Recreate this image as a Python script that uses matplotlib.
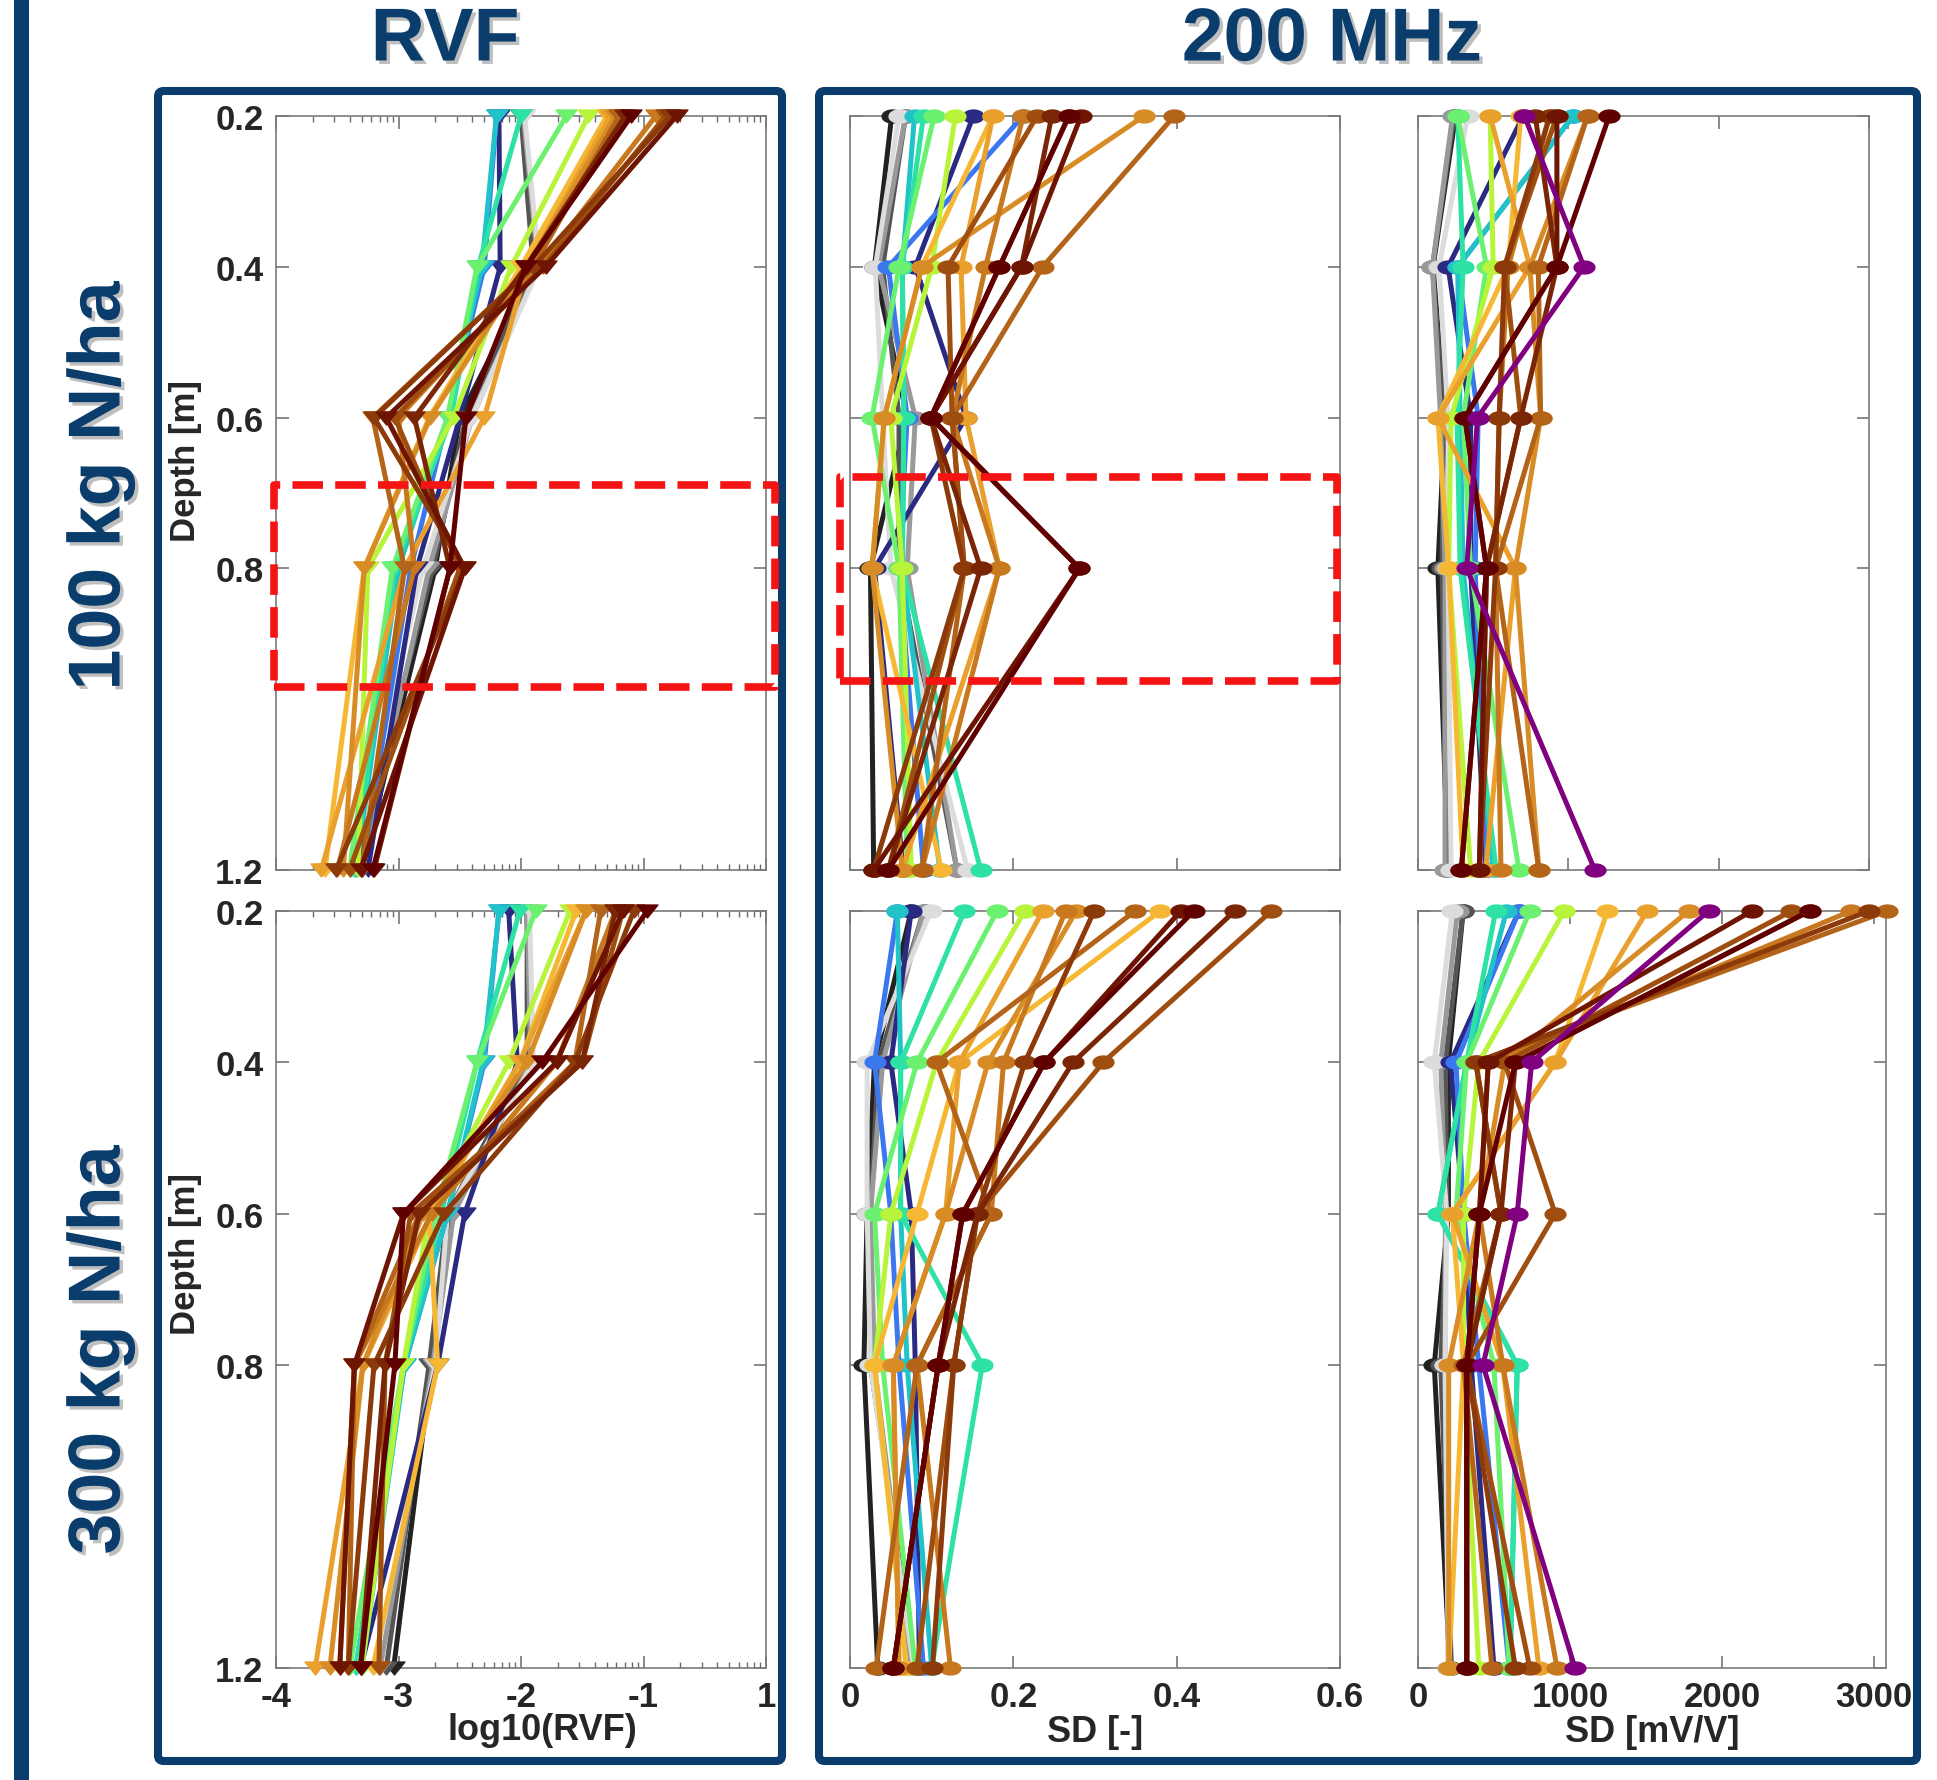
import numpy as np
import matplotlib
matplotlib.use("Agg")
import matplotlib.pyplot as plt
from matplotlib.path import Path
from matplotlib.patches import Rectangle, FancyBboxPatch
import matplotlib.patheffects as pe

plt.rcParams['font.family'] = ['Liberation Sans', 'DejaVu Sans']

# ---------------- data ----------------
depths = [0.2, 0.4, 0.6, 0.8, 1.2]

series_colors = [
    '#222222', '#555555', '#999999', '#dcdcdc', '#2b2a83', '#3b77ef',
    '#20c4c8', '#2ee2a5', '#6cf070', '#b8f43a', '#f6b834', '#eaa02c',
    '#d88c26', '#c8781e', '#b46418', '#a04e10', '#8c3a0a', '#7a2606',
    '#6e1402', '#600000', '#800080',
]

nan = np.nan
# log10(RVF), 100 kg N/ha
rvf_100 = [
    [-1.98, -1.88, -2.50, -2.70, -3.30],
    [-2.00, -1.90, -2.45, -2.72, -3.35],
    [-1.98, -1.86, -2.40, -2.75, -3.30],
    [-1.97, -1.85, -2.40, -2.80, -3.38],
    [-2.18, -2.17, -2.50, -2.85, -3.25],
    [-2.20, -2.30, -2.60, -2.90, -3.30],
    [-2.20, -2.32, -2.60, -3.00, -3.35],
    [-2.00, -2.35, -2.57, -3.03, -3.36],
    [-1.63, -2.36, -2.60, -3.05, -3.40],
    [-1.45, -2.08, -2.55, -3.25, -3.33],
    [-1.30, -2.00, -2.75, -3.28, -3.60],
    [-1.27, -1.95, -2.30, -2.95, -3.63],
    [-1.23, -1.95, -2.74, -3.28, -3.45],
    [-0.90, -1.85, -3.00, -2.87, -3.50],
    [-1.20, -1.90, -3.21, -2.95, -3.30],
    [-0.82, -1.82, -3.03, -2.50, -3.40],
    [-0.78, -1.90, -3.20, -2.46, -3.51],
    [-1.15, -1.96, -2.87, -2.58, -3.20],
    [-0.73, -1.80, -3.10, -2.46, -3.31],
    [-1.10, -1.96, -2.45, -2.58, -3.21],
    [nan, nan, nan, nan, nan],
]
# log10(RVF), 300 kg N/ha
rvf_300 = [
    [-1.95, -1.93, -2.56, -2.73, -3.04],
    [-1.95, -1.95, -2.60, -2.75, -3.10],
    [-1.95, -1.92, -2.55, -2.72, -3.15],
    [-1.93, -1.90, -2.60, -2.70, -3.20],
    [-2.10, -2.03, -2.46, -2.68, -3.31],
    [-2.18, -2.30, -2.60, -2.95, -3.35],
    [-2.18, -2.31, -2.60, -2.95, -3.30],
    [-2.01, -2.36, -2.65, -2.96, -3.35],
    [-1.88, -2.36, -2.70, -2.96, -3.40],
    [-1.60, -2.10, -2.75, -2.96, -3.30],
    [-1.55, -2.01, -2.75, -2.68, -3.21],
    [-1.47, -2.01, -2.73, -3.29, -3.68],
    [-1.47, -1.95, -2.80, -3.29, -3.56],
    [-1.23, -1.71, -2.73, -3.36, -3.48],
    [-1.35, -1.56, -2.83, -3.36, -3.41],
    [-1.17, -1.50, -2.90, -3.11, -3.16],
    [-1.08, -1.56, -2.63, -3.20, -3.41],
    [-1.23, -1.50, -2.83, -3.11, -3.31],
    [-1.17, -1.71, -2.96, -3.36, -3.48],
    [-0.97, -1.83, -2.96, -3.03, -3.31],
    [nan, nan, nan, nan, nan],
]
# SD [-], 100 kg N/ha
sd_100 = [
    [0.051, 0.030, 0.070, 0.025, 0.029],
    [0.068, 0.040, 0.060, 0.060, 0.131],
    [0.068, 0.035, 0.080, 0.070, 0.131],
    [0.060, 0.031, 0.040, 0.050, 0.144],
    [0.151, 0.080, 0.142, 0.030, 0.065],
    [0.212, 0.047, 0.070, 0.060, 0.090],
    [0.079, 0.064, 0.066, 0.064, 0.110],
    [0.090, 0.064, 0.066, 0.064, 0.160],
    [0.103, 0.060, 0.027, 0.060, 0.070],
    [0.129, 0.100, 0.050, 0.064, 0.075],
    [0.175, 0.088, 0.042, 0.027, 0.112],
    [0.175, 0.136, 0.142, 0.183, 0.064],
    [0.360, 0.088, 0.042, 0.027, 0.064],
    [0.212, 0.166, 0.125, 0.183, 0.088],
    [0.397, 0.236, 0.125, 0.140, 0.088],
    [0.229, 0.120, 0.125, 0.140, 0.047],
    [0.268, 0.183, 0.099, 0.140, 0.029],
    [0.247, 0.210, 0.099, 0.160, 0.047],
    [0.283, 0.210, 0.099, 0.281, 0.029],
    [0.268, 0.183, 0.099, 0.281, 0.047],
    [nan, nan, nan, nan, nan],
]
# SD [-], 300 kg N/ha
sd_300 = [
    [0.075, 0.030, 0.021, 0.017, 0.034],
    [0.090, 0.035, 0.025, 0.025, 0.080],
    [0.090, 0.040, 0.025, 0.030, 0.075],
    [0.099, 0.021, 0.021, 0.025, 0.078],
    [0.075, 0.050, 0.075, 0.080, 0.085],
    [0.058, 0.030, 0.050, 0.060, 0.090],
    [0.058, 0.062, 0.062, 0.070, 0.100],
    [0.140, 0.062, 0.062, 0.162, 0.100],
    [0.180, 0.082, 0.030, 0.040, 0.080],
    [0.214, 0.106, 0.050, 0.030, 0.069],
    [0.380, 0.134, 0.082, 0.030, 0.069],
    [0.236, 0.134, 0.117, 0.053, 0.060],
    [0.277, 0.169, 0.117, 0.053, 0.060],
    [0.264, 0.188, 0.173, 0.082, 0.123],
    [0.349, 0.106, 0.173, 0.082, 0.032],
    [0.516, 0.310, 0.156, 0.127, 0.082],
    [0.299, 0.214, 0.156, 0.127, 0.101],
    [0.471, 0.273, 0.156, 0.108, 0.053],
    [0.405, 0.238, 0.138, 0.108, 0.053],
    [0.421, 0.238, 0.138, 0.108, 0.053],
    [nan, nan, nan, nan, nan],
]
# SD [mV/V], 100 kg N/ha
sdmv_100 = [
    [250, 100, 180, 132, 200],
    [240, 96, 170, 160, 190],
    [230, 96, 150, 180, 180],
    [330, 140, 200, 200, 220],
    [700, 200, 350, 350, 450],
    [1032, 264, 400, 380, 460],
    [1032, 264, 280, 300, 500],
    [264, 300, 260, 280, 520],
    [264, 456, 300, 350, 672],
    [480, 500, 220, 204, 350],
    [684, 600, 132, 204, 300],
    [480, 744, 132, 648, 450],
    [1128, 744, 816, 648, 804],
    [876, 600, 540, 516, 552],
    [1128, 800, 816, 516, 804],
    [924, 576, 684, 456, 408],
    [876, 576, 540, 516, 408],
    [780, 924, 684, 456, 288],
    [924, 924, 312, 456, 408],
    [1272, 924, 312, 456, 288],
    [708, 1104, 396, 324, 1176],
]
# SD [mV/V], 300 kg N/ha
sdmv_300 = [
    [297, 200, 200, 107, 210],
    [297, 180, 190, 150, 220],
    [260, 150, 180, 178, 200],
    [226, 107, 190, 178, 202],
    [665, 214, 300, 350, 500],
    [665, 250, 300, 400, 600],
    [582, 320, 131, 653, 606],
    [511, 320, 131, 653, 606],
    [736, 320, 250, 500, 600],
    [962, 400, 300, 300, 400],
    [1247, 903, 226, 300, 202],
    [1508, 903, 226, 558, 796],
    [1781, 570, 404, 202, 202],
    [2850, 463, 404, 558, 915],
    [3088, 380, 546, 300, 487],
    [2458, 570, 903, 321, 736],
    [2969, 380, 546, 321, 641],
    [2577, 641, 546, 321, 321],
    [2197, 463, 404, 321, 321],
    [2577, 641, 404, 321, 321],
    [1912, 748, 653, 428, 1033],
]

rvf_ticks = [-4, -3, -2, -1, 0]
rvf_ticklabels = ['-4', '-3', '-2', '-1', '1']
sd_ticks = [0, 0.2, 0.4, 0.6]
sd_ticklabels = ['0', '0.2', '0.4', '0.6']
sdmv_ticks = [0, 1000, 2000, 3000]
sdmv_ticklabels = ['0', '1000', '2000', '3000']
depth_labels = ['0.2', '0.4', '0.6', '0.8', '1.2']

# ---------------- style ----------------
W, H = 1937, 1781
NAVY = '#0b3d6c'
RED = '#f41414'
TXT = '#262626'

fig = plt.figure(figsize=(W / 100, H / 100), dpi=100)
fig.patch.set_facecolor('white')


def fx(px):
    return px / W


def fy(py):
    return 1 - py / H


def add_axes(x0, x1, y0, y1):
    return fig.add_axes([fx(x0), fy(y1), fx(x1 - x0), (y1 - y0) / H])


tri = Path([(-1, 0.62), (1, 0.62), (0, -0.62), (-1, 0.62)],
           [Path.MOVETO, Path.LINETO, Path.LINETO, Path.CLOSEPOLY])
th = np.linspace(0, 2 * np.pi, 41)
ell = Path(np.column_stack([np.cos(th), 0.62 * np.sin(th)]))


def draw(ax, data, marker, ms):
    for i in range(len(data)):
        vals = np.asarray(data[i], dtype=float)
        if np.all(np.isnan(vals)):
            continue
        c = series_colors[i]
        ax.plot(vals, depths, '-', color=c, lw=3.6, marker=marker, ms=ms,
                mfc=c, mec=c, clip_on=False, zorder=3 + i * 0.01)


def setup(ax, xlim, ticks, ticklabels, show_x, show_y):
    ax.set_ylim(1.2, 0.2)
    ax.set_xlim(*xlim)
    ax.set_yticks(depths)
    ax.set_yticklabels(depth_labels)
    ax.set_xticks(ticks)
    ax.set_xticklabels(ticklabels)
    ax.tick_params(which='major', direction='in', top=True, right=True,
                   length=9, width=1.1, color='#6a6a6a', labelsize=25,
                   labelcolor=TXT, pad=9,
                   labelbottom=show_x, labelleft=show_y)
    for lab in ax.get_xticklabels() + ax.get_yticklabels():
        lab.set_fontweight('bold')
    for s in ax.spines.values():
        s.set_color('#7a7a7a')
        s.set_linewidth(1.2)


ax_pos = {
    'rvf': (276, 766), 'sd': (850, 1340),
    'sdmv_top': (1418, 1869), 'sdmv_bot': (1418, 1886),
}
row_y = [(117, 871), (912, 1669)]

rvf_minor = [d + np.log10(m) for d in range(-4, 0) for m in range(2, 10)]

axes = {}
for r, (rvf_d, sd_d, mv_d) in enumerate([(rvf_100, sd_100, sdmv_100),
                                          (rvf_300, sd_300, sdmv_300)]):
    y0, y1 = row_y[r]
    show_x = (r == 1)
    a1 = add_axes(*ax_pos['rvf'], y0, y1)
    draw(a1, rvf_d, tri, 15)
    setup(a1, (-4, 0), rvf_ticks, rvf_ticklabels, show_x, True)
    a1.set_xticks(rvf_minor, minor=True)
    a1.tick_params(which='minor', direction='in', top=True, length=4.5,
                   width=1.0, color='#6a6a6a')

    a2 = add_axes(*ax_pos['sd'], y0, y1)
    draw(a2, sd_d, ell, 15)
    setup(a2, (0, 0.6), sd_ticks, sd_ticklabels, show_x, False)

    key = 'sdmv_top' if r == 0 else 'sdmv_bot'
    a3 = add_axes(*ax_pos[key], y0, y1)
    draw(a3, mv_d, ell, 15)
    setup(a3, (0, 2970) if r == 0 else (0, 3080), sdmv_ticks, sdmv_ticklabels,
          show_x, False)
    axes[r] = (a1, a2, a3)

# red dashed highlight boxes (top row)
a1, a2, _ = axes[0]
for ax, (x0, y0, w, h) in [(a1, (-0.004, 0.243, 1.022, 0.268)),
                           (a2, (-0.020, 0.251, 1.014, 0.270))]:
    ax.add_patch(Rectangle((x0, y0), w, h, transform=ax.transAxes, fill=False,
                           ec=RED, lw=5.5, ls=(0, (4, 1.6)), clip_on=False,
                           zorder=20, joinstyle='round'))

# navy frames
for (x0, x1) in [(158, 782), (819, 1917)]:
    fig.add_artist(FancyBboxPatch((fx(x0), fy(1762)), fx(x1 - x0), (1762 - 92) / H,
                                  boxstyle='round,pad=0,rounding_size=0.003',
                                  transform=fig.transFigure, fill=False,
                                  ec=NAVY, lw=5.8, zorder=0))
fig.add_artist(Rectangle((fx(14), 0), fx(15), 1, transform=fig.transFigure,
                         fc=NAVY, ec='none', zorder=0))

shadow = [pe.SimplePatchShadow(offset=(2.5, -2.5), shadow_rgbFace='#000000', alpha=0.25),
          pe.Normal()]
fig.text(fx(445), fy(42), 'RVF', ha='center', va='center', fontsize=54,
         fontweight='bold', color=NAVY, path_effects=shadow)
fig.text(fx(1332), fy(42), '200 MHz', ha='center', va='center', fontsize=54,
         fontweight='bold', color=NAVY, path_effects=shadow)
fig.text(fx(100), fy(487), '100 kg N/ha', ha='center', va='center', rotation=90,
         fontsize=53, fontweight='bold', color=NAVY, path_effects=shadow)
fig.text(fx(100), fy(1351), '300 kg N/ha', ha='center', va='center', rotation=90,
         fontsize=53, fontweight='bold', color=NAVY, path_effects=shadow)

for yc in (461, 1254):
    fig.text(fx(185), fy(yc), 'Depth [m]', ha='center', va='center', rotation=90,
             fontsize=25, fontweight='bold', color=TXT)

fig.text(fx(542), fy(1731), 'log10(RVF)', ha='center', va='center', fontsize=26,
         fontweight='bold', color=TXT)
fig.text(fx(1095), fy(1733), 'SD [-]', ha='center', va='center', fontsize=26,
         fontweight='bold', color=TXT)
fig.text(fx(1652), fy(1733), 'SD [mV/V]', ha='center', va='center', fontsize=26,
         fontweight='bold', color=TXT)

fig.savefig('out.png', dpi=100, facecolor='white')
